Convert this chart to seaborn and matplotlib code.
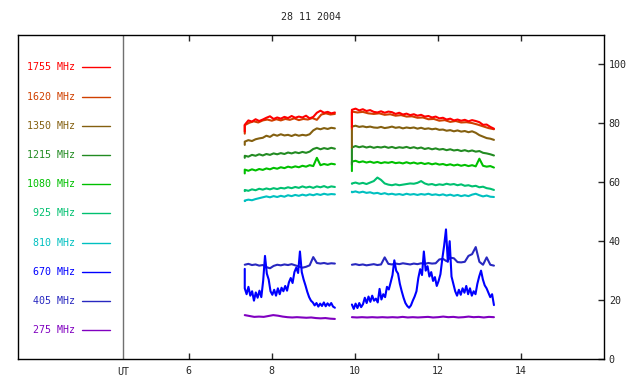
import numpy as np
import pandas as pd
import matplotlib
matplotlib.use("Agg")
import matplotlib.pyplot as plt
import seaborn as sns

# ==========================================
# DATA
# ==========================================
title = "28 11 2004"
freqs = ["1755", "1620", "1350", "1215", "1080", "925", "810", "670", "405", "275"]
colors = ["#ff0000", "#d04000", "#846010", "#228b22", "#00c000",
          "#00c070", "#00c0c0", "#0000ff", "#2828c0", "#8000c0"]

# observing windows (UT hours)
win_left = (7.35, 9.52)
win_right = (9.93, 13.35)

# first value of every list = start point of the window (drawn at the same UT)
f1755_l = [77.2, 79.5, 81.0, 80.6, 81.4, 80.8, 81.3, 81.9, 82.4, 81.5, 82.0, 81.6, 82.2, 81.8,
           82.5, 81.9, 82.3, 82.0, 82.6, 81.7, 82.2, 83.6, 84.3, 83.6, 83.9, 83.4, 83.7]
f1755_r = [78.8, 84.6, 85.0, 84.4, 84.8, 84.2, 84.5, 83.9, 83.7, 84.1, 83.6, 84.0, 83.8, 83.2,
           83.6, 83.0, 83.3, 82.8, 83.1, 82.6, 82.9, 82.3, 82.5, 82.0, 82.3, 81.7, 81.9, 81.3,
           81.6, 81.0, 81.3, 80.9, 81.2, 80.7, 81.1, 80.8, 80.4, 79.5, 79.6, 78.8, 78.2]
f1620_l = [76.5, 79.4, 80.2, 80.7, 80.3, 81.0, 81.3, 80.9, 81.4, 81.0, 81.5, 81.2, 81.7, 81.1,
           81.5, 81.3, 81.8, 81.2, 83.0, 83.4, 83.0, 83.2]
f1620_r = [78.0, 84.0, 83.7, 83.9, 83.4, 83.2, 83.4, 82.9, 83.1, 82.6, 82.8, 82.3, 82.4, 81.9,
           82.0, 81.4, 81.5, 80.9, 81.1, 80.5, 80.8, 80.3, 80.4, 80.1, 79.6, 79.0, 78.4, 78.0]
f1350_l = [72.7, 73.8, 74.3, 74.0, 74.6, 74.9, 75.1, 75.8, 75.4, 76.2, 75.8, 76.3, 75.9, 76.1,
           75.7, 76.2, 75.8, 76.1, 75.9, 76.3, 77.6, 78.3, 78.0, 78.4, 78.1, 78.5, 78.3]
f1350_r = [71.8, 78.9, 79.2, 78.8, 79.0, 78.7, 78.9, 78.6, 78.5, 78.8, 78.4, 78.6, 78.9, 78.5,
           78.7, 78.3, 78.6, 78.4, 78.6, 78.2, 78.5, 78.1, 78.3, 78.0, 78.2, 77.8, 77.9, 77.5,
           77.7, 77.3, 77.6, 77.2, 77.4, 77.0, 77.3, 76.8, 76.0, 75.5, 75.0, 74.8, 74.4]
f1215_l = [68.3, 69.0, 68.7, 69.3, 69.0, 69.5, 69.1, 69.6, 69.3, 69.8, 69.5, 69.9, 69.6, 70.1,
           69.8, 70.2, 69.9, 70.3, 70.0, 70.4, 71.3, 71.7, 71.2, 71.6, 71.3, 71.7, 71.4]
f1215_r = [66.0, 71.8, 72.3, 71.9, 72.2, 71.8, 72.1, 71.7, 72.0, 71.8, 72.1, 71.7, 72.0, 71.6,
           71.9, 71.7, 72.0, 71.6, 71.9, 71.5, 71.8, 71.3, 71.6, 71.2, 71.5, 71.1, 71.3, 70.9,
           71.2, 70.8, 71.0, 70.6, 70.9, 70.5, 70.8, 70.4, 70.6, 70.0, 69.8, 69.5, 69.1]
f1080_l = [63.0, 64.3, 63.9, 64.4, 64.0, 64.5, 64.2, 64.7, 64.4, 64.9, 64.6, 65.1, 64.8, 65.3,
           65.0, 65.4, 65.1, 65.6, 65.3, 65.8, 65.5, 68.3, 65.8, 66.2, 65.9, 66.3, 66.1]
f1080_r = [63.8, 67.0, 67.3, 66.8, 67.1, 66.7, 67.0, 66.6, 66.9, 66.5, 66.8, 66.6, 66.9, 66.5,
           66.7, 66.4, 66.8, 66.4, 66.7, 66.3, 66.6, 66.2, 66.5, 66.1, 66.4, 66.0, 66.2, 65.8,
           66.1, 65.7, 66.0, 65.6, 65.9, 65.5, 65.8, 65.4, 68.0, 65.6, 65.3, 65.5, 65.0]
f925_l = [57.0, 57.4, 57.1, 57.6, 57.3, 57.8, 57.5, 57.9, 57.6, 58.0, 57.7, 58.1, 57.9, 58.3,
          58.0, 58.4, 58.1, 58.6, 58.2, 58.5, 58.1, 58.6, 58.3, 58.7, 58.2, 58.6, 58.4]
f925_r = [59.5, 59.6, 59.9, 59.5, 59.8, 59.4, 59.9, 60.4, 61.6, 60.8, 59.6, 59.2, 59.0, 59.3,
          59.0, 59.2, 59.4, 59.6, 59.5, 59.8, 60.4, 59.6, 59.2, 59.4, 59.0, 59.3, 59.1, 59.5,
          59.2, 59.4, 59.0, 59.3, 58.8, 59.0, 58.6, 58.8, 58.3, 58.5, 58.0, 57.8, 57.4]
f810_l = [53.6, 53.8, 54.1, 53.9, 54.3, 54.6, 54.9, 55.2, 54.9, 55.3, 55.0, 55.4, 55.1, 55.6,
          55.3, 55.7, 55.4, 55.8, 55.5, 55.9, 55.6, 56.0, 55.7, 56.1, 55.8, 56.0, 55.9]
f810_r = [56.8, 56.6, 56.9, 56.5, 56.8, 56.4, 56.6, 56.2, 56.4, 56.0, 56.3, 55.9, 56.1, 55.8,
          56.0, 55.7, 56.1, 55.8, 56.0, 55.7, 56.0, 55.8, 56.1, 55.7, 55.9, 55.6, 55.9, 55.5,
          55.8, 55.4, 55.7, 55.3, 55.6, 55.3, 55.8, 56.1, 55.6, 55.2, 55.5, 55.1, 55.0]
f670_l = [30.6, 24.0, 22.0, 24.5, 21.5, 23.0, 19.8, 22.6, 20.8, 23.2, 21.0, 26.5, 35.0, 29.0,
          27.0, 23.0, 21.8, 23.5, 21.5, 24.0, 22.0, 24.2, 23.0, 24.8, 23.2, 26.0, 27.5, 25.8,
          29.5, 31.0, 29.2, 36.5, 29.5, 27.0, 25.0, 22.8, 21.0, 19.8, 19.2, 18.2, 19.0, 17.8,
          18.8, 18.0, 19.2, 17.9, 18.9, 18.1, 19.0, 17.8, 17.4]
f670_r = [18.5, 18.5, 17.0, 18.8, 17.3, 19.0, 17.6, 18.6, 20.8, 19.0, 21.2, 19.4, 21.5, 19.8,
          20.5, 19.2, 23.8, 20.2, 22.0, 21.0, 24.5, 23.6, 26.0, 28.5, 33.5, 30.0, 29.0, 25.5,
          23.0, 20.8, 19.0, 18.0, 17.4, 18.2, 19.8, 21.2, 23.0, 27.5, 30.5, 28.5, 36.5, 30.0,
          31.5, 28.0, 29.5, 26.5, 27.8, 24.8, 26.5, 28.8, 34.0, 38.5, 44.0, 33.0, 40.0, 28.0,
          25.5, 23.0, 21.5, 23.5, 21.8, 24.0, 22.5, 24.8, 22.0, 24.0, 21.5, 23.0, 22.0, 25.5,
          28.0, 30.0, 27.0, 25.0, 24.0, 22.5, 21.0, 22.0, 18.3]
f405_l = [32.0, 32.0, 32.3, 31.9, 32.1, 31.7, 31.9, 31.2, 30.8, 31.6, 32.0, 31.8, 32.1, 31.9,
          32.2, 31.8, 31.4, 31.0, 31.3, 31.8, 34.6, 32.6, 32.4, 32.6, 32.3, 32.5, 32.4]
f405_r = [32.0, 32.0, 32.2, 31.9, 32.1, 31.8, 32.0, 32.2, 31.9, 32.1, 34.5, 32.3, 32.1, 32.4,
          32.2, 32.5, 32.3, 32.1, 32.4, 32.2, 32.5, 32.3, 32.6, 32.4, 32.5, 33.8, 34.0, 33.2,
          34.4, 34.2, 32.9, 32.8, 33.0, 35.0, 35.6, 38.0, 33.0, 32.0, 34.5, 32.0, 31.7]
f275_l = [14.9, 14.9, 14.6, 14.3, 14.4, 14.3, 14.6, 14.9, 14.7, 14.4, 14.2, 14.1, 14.2, 14.1,
          14.0, 14.1, 13.9, 13.8, 13.9, 13.7, 13.6]
f275_r = [14.2, 14.2, 14.1, 14.2, 14.1, 14.2, 14.1, 14.2, 14.1, 14.2, 14.1, 14.3, 14.1, 14.2,
          14.1, 14.2, 14.3, 14.1, 14.2, 14.4, 14.2, 14.3, 14.1, 14.2, 14.4, 14.2, 14.3, 14.1,
          14.3, 14.2]

series = {
    "1755": (f1755_l, f1755_r), "1620": (f1620_l, f1620_r), "1350": (f1350_l, f1350_r),
    "1215": (f1215_l, f1215_r), "1080": (f1080_l, f1080_r), "925": (f925_l, f925_r),
    "810": (f810_l, f810_r), "670": (f670_l, f670_r), "405": (f405_l, f405_r),
    "275": (f275_l, f275_r),
}

yticks = [0, 20, 40, 60, 80, 100]
xticks = [6, 8, 10, 12, 14]


def window_times(win, vals):
    # evenly sampled times; the first sample is repeated for the start point
    t = np.linspace(win[0], win[1], len(vals) - 1)
    return np.r_[win[0], t]


rows = []
for f, (left, right) in series.items():
    for seg, (win, vals) in enumerate([(win_left, left), (win_right, right)]):
        for t, v in zip(window_times(win, vals), vals):
            rows.append((t, v, f, seg))
df = pd.DataFrame(rows, columns=["ut", "flux", "freq", "seg"])

# ==========================================
# PLOT
# ==========================================
sns.set_style("ticks")
plt.rcParams["font.family"] = ["DejaVu Sans Mono"]
plt.rcParams["font.size"] = 7.2

fig = plt.figure(figsize=(6.4, 3.84), dpi=100)
ax = fig.add_axes([18 / 640, 25 / 384, 586 / 640, 324 / 384])

palette = dict(zip(freqs, colors))
sns.lineplot(data=df, x="ut", y="flux", hue="freq", units="seg", estimator=None,
             sort=False, hue_order=freqs[::-1], palette=palette, lw=1.5,
             legend=False, ax=ax)

# frequency key on the left, drawn in data units
key_y = np.linspace(99, 9.8, len(freqs))
for f, c, yk in zip(freqs, colors, key_y):
    ax.text(3.27, yk, f"{f} MHz", color=c, ha="right", va="center", fontsize=7.2)
    ax.plot([3.42, 4.1], [yk, yk], color=c, lw=1)

ax.axvline(4.43, color="#707070", lw=1)
ax.text(4.43, -2.6, "UT", ha="center", va="top", fontsize=7.2)

ax.set_xlim(1.89, 16.0)
ax.set_ylim(0, 110)
ax.set_xticks(xticks)
ax.set_yticks(yticks)
ax.yaxis.tick_right()
ax.tick_params(axis="x", direction="in", top=True, bottom=True, length=4, width=1, pad=5)
ax.tick_params(axis="y", direction="in", right=True, left=False, length=4, width=1, pad=3.5)
ax.set_xlabel("")
ax.set_ylabel("")
for s in ax.spines.values():
    s.set_visible(True)
    s.set_linewidth(1)
    s.set_color("black")

fig.text(311 / 640, 1 - 17 / 384, title, ha="center", va="center", fontsize=7.2)

fig.savefig("out.png", dpi=100)
